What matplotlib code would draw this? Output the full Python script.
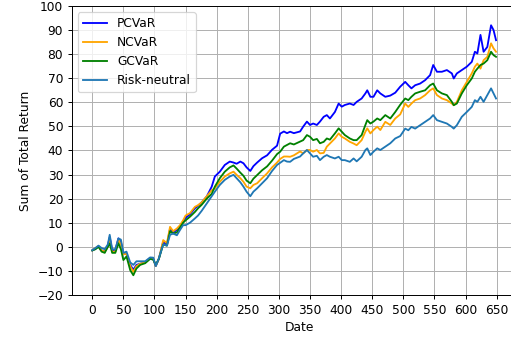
import matplotlib
matplotlib.use("Agg")
import matplotlib.pyplot as plt

t = [0, 5, 10, 15, 20, 25, 28, 32, 37, 42, 46, 50, 55, 61, 66, 71, 77, 85, 93, 98,
     102, 107, 114, 120, 125, 130, 136, 141, 146, 150, 157, 165, 170, 176, 184, 192, 197, 205, 213, 221,
     227, 232, 238, 243, 248, 254, 259, 265, 273, 281, 289, 297,
     302, 308, 313, 318, 324, 334, 339, 345, 350, 355, 361, 366, 372, 377, 382, 390, 396, 401, 406, 414,
     420, 425, 433, 439, 442, 447, 452, 458, 463, 471, 479, 487, 495, 503, 508, 513, 519, 527, 535, 543,
     548, 554, 562, 570, 578, 581, 586, 594, 602, 610, 615, 619, 624, 629, 635, 641, 645, 649]

pcvar = [-1.5, -0.8, 0.2, -1.5, -2, 0.5, 4, -1.5, -1.5, 3.5, 2, -3, -3, -7.5, -9.5, -7.5, -7, -6.5, -4.6, -5,
         -8, -5, 2, 1, 7.5, 6, 7, 8.5, 10.5, 12, 13.5, 16, 17, 18.5, 20.9, 25, 29.2, 31.2, 34, 35.4,
         35, 34.5, 35.4, 34.7, 33, 31.5, 33.5, 35, 36.8, 38, 40.3, 42,
         47, 47.9, 47.2, 47.8, 47.2, 47.9, 49.9, 52, 50.6, 51.2, 50.6, 52, 54, 54.7, 53.3, 56, 59.5, 58.2, 58.9, 59.5,
         58.9, 60.2, 61.6, 63.7, 65, 62.3, 62.3, 65, 63.7, 62.3, 62.8, 64, 66.5, 68.5, 67.1, 65.8, 67.1, 67.8, 69.2, 71.3,
         75.5, 72.7, 72.7, 73.4, 72, 69.9, 72, 73.4, 74.8, 76.8, 81, 80.3, 88, 81, 83, 92, 90, 85.8]

ncvar = [-1.5, -0.5, 0.3, -1.5, -2, 0, 3, -2, -2, 3, 1, -3, -3, -8, -10.4, -8, -7, -6.5, -4.6, -5,
         -8, -5, 2.8, 1.5, 8.3, 6.5, 7.6, 9, 11, 13, 14, 16.6, 17.3, 18.5, 21, 23.5, 24.3, 27, 29.2, 30.5,
         31.2, 29.9, 28.5, 27, 25, 24.3, 25.7, 26.4, 28.5, 30.5, 33, 35,
         36.5, 37.5, 37.5, 37.4, 38, 39.6, 38.8, 40.2, 40.2, 39.5, 40.2, 38.8, 39, 41.6, 42.9, 45, 47.1, 45.7, 45, 43.6,
         42.9, 42.2, 44.3, 47.8, 49.2, 47.1, 48.5, 49.9, 48.5, 51.9, 50.6, 53.3, 55, 59.5, 58.1, 59.5, 60.9, 61.6, 63, 65,
         65.8, 63, 61.6, 60.9, 59.5, 58.8, 60.2, 65, 68.5, 72, 74.8, 76.1, 74, 77.5, 78.9, 84.5, 82.4, 81]

gcvar = [-1.5, -1, 0, -2, -2.5, 0, 1.4, -2.5, -2.5, 1.5, -1, -5.5, -4, -9.7, -11.8, -9, -7.5, -6.8, -5, -5.3,
         -7.5, -5, 1, 0.5, 6.5, 5.5, 6, 8, 10, 11, 12.5, 14.5, 16, 17.5, 20, 22, 25, 28.5, 31.2, 33,
         33.8, 32.5, 30.8, 29.5, 27.5, 26.4, 28.3, 29.8, 31.8, 33.4, 35.8, 38.5,
         39.5, 41.6, 42.3, 43, 42.5, 43.7, 44.3, 46.4, 45.7, 44.3, 44.8, 43, 43.6, 45, 44.5, 47.1, 49.2, 47.8, 46.4, 45,
         44.3, 44.3, 46.4, 50.6, 52.6, 51.2, 52, 53.3, 52.6, 54.7, 53.3, 56, 59, 61.6, 60.9, 62.3, 63.7, 64.4, 65, 67.1,
         67.8, 65, 63.7, 63, 60.2, 58.8, 59.5, 63.7, 67.1, 69.9, 72.7, 74, 75.5, 76.1, 77.5, 81, 79.6, 78.9]

risk_neutral = [-1.4, -0.5, 0.5, -0.5, -1, 1, 5, -1, -1, 3.5, 3, -2.5, -2, -6.5, -7.5, -6, -6, -6, -4.4, -4.5,
                -8, -4.8, 1, 0.5, 5, 5.5, 4.8, 7, 9, 9, 10, 11.8, 13, 15, 18, 21, 22.9, 25.7, 27.8, 29.2,
                29.9, 28.5, 26.8, 25, 22.9, 21, 22.9, 24.3, 26.4, 28.5, 31.5, 34,
                34.9, 36, 35.4, 35.3, 36.5, 37.5, 38.8, 40.2, 38.8, 37.4, 37.8, 36, 37.4, 38.1, 37.4, 36.7, 37.4, 36, 36, 35.3,
                36.7, 35.5, 37.4, 40.2, 40.9, 38.1, 39.5, 40.9, 40.2, 41.6, 43, 45, 46, 49.1, 48.4, 49.8, 49.1, 50.5, 51.9, 53.3,
                54.7, 52.6, 51.9, 51.2, 49.8, 49.1, 50.5, 54, 56, 58.1, 60.9, 60.2, 62.3, 60.2, 63, 65.8, 63.7, 61.6]

labels = ["PCVaR", "NCVaR", "GCVaR", "Risk-neutral"]
colors = ["blue", "orange", "green", "#1f77b4"]
xticks = list(range(0, 651, 50))
yticks = list(range(-20, 101, 10))

dpi = 88
fig = plt.figure(figsize=(511 / dpi, 339 / dpi), dpi=dpi)
ax = fig.add_axes([0.1403, 0.1298, 0.8897, 0.8525])

for series, lab, col in zip([pcvar, ncvar, gcvar, risk_neutral], labels, colors):
    ax.plot(t, series, color=col, label=lab, linewidth=1.5)

ax.set_xlim(-33.1, 697.7)
ax.set_ylim(-20, 100)
ax.set_xticks(xticks)
ax.set_yticks(yticks)
ax.grid(True, color="#b0b0b0", linewidth=0.8)
ax.set_xlabel("Date")
ax.set_ylabel("Sum of Total Return")
ax.legend(loc="upper left")

fig.savefig("out.png", dpi=dpi)
